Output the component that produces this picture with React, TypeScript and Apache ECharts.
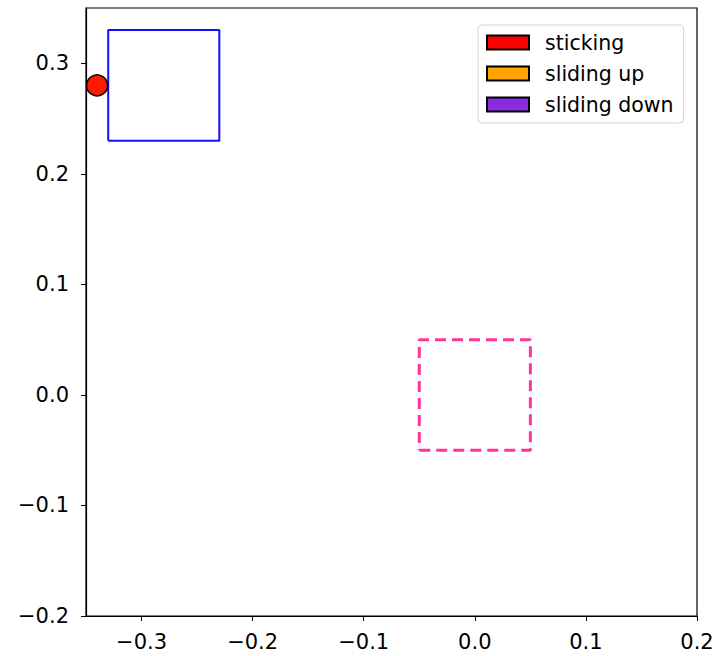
import React, { useEffect, useRef } from "react";
import * as echarts from "echarts";

const xTicks = [-0.3, -0.2, -0.1, 0.0, 0.1, 0.2];
const yTicks = [-0.2, -0.1, 0.0, 0.1, 0.2, 0.3];
const blueSquare = [
  [-0.33, 0.23],
  [-0.23, 0.23],
  [-0.23, 0.33],
  [-0.33, 0.33],
  [-0.33, 0.23],
];
const pinkSquare = [
  [-0.05, -0.05],
  [0.05, -0.05],
  [0.05, 0.05],
  [-0.05, 0.05],
  [-0.05, -0.05],
];
const redPoint = [[-0.34, 0.28]];
const legendNames = ["sticking", "sliding up", "sliding down"];
const legendColors = ["#ff0000", "#ffa500", "#8a2be2"];

const fmt = (v: number) => v.toFixed(1).replace("-", "\u2212");

export default function App() {
  const ref = useRef<HTMLDivElement>(null);
  useEffect(() => {
    const chart = echarts.init(ref.current!, null, { renderer: "svg" });
    const font = "DejaVu Sans";
    chart.setOption({
      animation: false,
      grid: {
        left: 86,
        top: 8,
        right: 23,
        bottom: 40,
        show: true,
        borderColor: "#000",
        borderWidth: 1.2,
        backgroundColor: "#fff",
      },
      xAxis: {
        type: "value",
        min: -0.35,
        max: 0.2,
        axisLine: { onZero: false, lineStyle: { color: "#000", width: 1.2 } },
        axisTick: {
          show: true,
          length: 5,
          lineStyle: { color: "#000" },
          customValues: xTicks,
        },
        axisLabel: {
          color: "#000",
          fontFamily: font,
          fontSize: 21,
          margin: 15,
          customValues: xTicks,
          formatter: (v: number) => fmt(v),
        },
        splitLine: { show: false },
      },
      yAxis: {
        type: "value",
        min: -0.2,
        max: 0.35,
        axisLine: { show: true, onZero: false, lineStyle: { color: "#000", width: 1.2 } },
        axisTick: {
          show: true,
          length: 5,
          lineStyle: { color: "#000" },
          customValues: yTicks,
        },
        axisLabel: {
          color: "#000",
          fontFamily: font,
          fontSize: 21,
          margin: 17,
          customValues: yTicks,
          formatter: (v: number) => fmt(v),
        },
        splitLine: { show: false },
      },
      legend: {
        orient: "vertical",
        left: 478,
        top: 25,
        padding: [7, 10, 8, 8],
        itemWidth: 42,
        itemHeight: 14,
        itemGap: 10,
        borderColor: "#d4d4d4",
        borderWidth: 1,
        borderRadius: 4,
        backgroundColor: "#fff",
        data: legendNames.map((n) => ({ name: n, icon: "rect" })),
        textStyle: {
          fontFamily: font,
          fontSize: 20.5,
          color: "#000",
          padding: [0, 0, 0, 11],
        },
        selectedMode: false,
      },
      series: [
        ...legendNames.map((n, i) => ({
          name: n,
          type: "scatter",
          data: [],
          itemStyle: {
            color: legendColors[i],
            borderColor: "#000",
            borderWidth: 1,
            opacity: 1,
          },
        })),
        {
          type: "line",
          data: blueSquare,
          symbol: "none",
          clip: false,
          lineStyle: { color: "#1010ff", width: 2 },
          z: 3,
        },
        {
          type: "line",
          data: pinkSquare,
          symbol: "none",
          clip: false,
          lineStyle: { color: "#ff3399", width: 3, type: [11, 6] },
          z: 3,
        },
        {
          type: "scatter",
          data: redPoint,
          symbol: "circle",
          symbolSize: 21,
          clip: false,
          itemStyle: { color: "#ff1a00", borderColor: "#000", borderWidth: 1.5, opacity: 1 },
          z: 5,
        },
      ],
    });
    return () => chart.dispose();
  }, []);
  return (
    <div
      ref={ref}
      style={{ position: "fixed", left: 0, top: 0, width: 720, height: 656, background: "#fff" }}
    />
  );
}
